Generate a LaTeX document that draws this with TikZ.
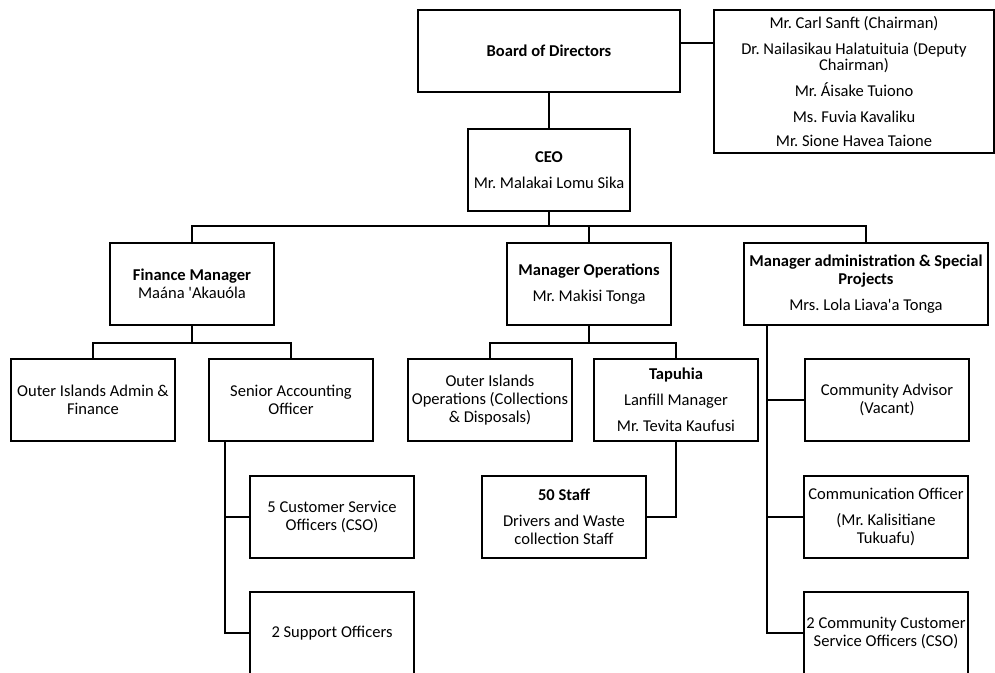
\documentclass[tikz,border=0pt]{standalone}
\usepackage{fontspec}
\setmainfont{Carlito}
\usepackage{tikz}
\frenchspacing

\begin{document}
\begin{tikzpicture}[x=0.75pt,y=-0.75pt,
        box/.style={draw, line width=1.1pt, align=center, inner sep=1pt,
            minimum width=123pt, minimum height=61.5pt,
            font=\fontsize{12.4}{13.5}\selectfont},
        link/.style={line width=1.3pt}]
        \useasboundingbox (0,0) rectangle (995,673);
        \clip (0,0) rectangle (995,673);

        \node[box, minimum width=196.5pt] (board) at (549,51) {\textbf{Board of Directors}};
        \node[box, minimum width=210pt, minimum height=107.25pt] (members) at (854,81.5)
            {Mr. Carl Sanft (Chairman)\\[6pt]
             Dr. Nailasikau Halatuituia (Deputy\\[-1pt]
             Chairman)\\[6pt]
             Mr. Áisake Tuiono\\[5.5pt]
             Ms. Fuvia Kavaliku\\[5pt]
             Mr. Sione Havea Taione};
        \node[box, minimum width=121.5pt] (ceo) at (549,170) {\textbf{CEO}\\[6pt] Mr. Malakai Lomu Sika};

        \node[box] (fin) at (192,284) {\textbf{Finance Manager}\\ Maána \textquotesingle Akauóla};
        \node[box] (ops) at (589,284) {\textbf{Manager Operations}\\[6pt] Mr. Makisi Tonga};
        \node[box, minimum width=183pt] (adm) at (866,284)
            {\textbf{Manager administration \& Special}\\ \textbf{Projects}\\[6pt] Mrs. Lola Liava\textquotesingle a Tonga};

        \node[box] (oia) at (93,400) {Outer Islands Admin \&\\ Finance};
        \node[box] (sao) at (291,400) {Senior Accounting\\ Officer};
        \node[box] (oio) at (490,400) {Outer Islands\\ Operations (Collections\\ \& Disposals)};
        \node[box] (tap) at (676,400) {\textbf{Tapuhia}\\[6pt] Lanfill Manager\\[6pt] Mr. Tevita Kaufusi};
        \node[box] (adv) at (887,400) {Community Advisor\\ (Vacant)};

        \node[box] (cso) at (332,517) {5 Customer Service\\ Officers (CSO)};
        \node[box] (staff) at (564,517) {\textbf{50 Staff}\\[6pt] Drivers and Waste\\ collection Staff};
        \node[box] (comm) at (886,517) {Communication Officer\\[6pt] (Mr. Kalisitiane\\ Tukuafu)};
        \node[box] (sup) at (332,633) {2 Support Officers};
        \node[box] (ccso) at (886,633) {2 Community Customer\\ Service Officers (CSO)};

        \coordinate (b1) at (549,226);
        \coordinate (b2) at (192,343);
        \coordinate (b3) at (589,343);
        \coordinate (s1) at ([xshift=12.75pt]sao.south west);
        \coordinate (s2) at ([xshift=18pt]adm.south west);

        \draw[link] ([yshift=6pt]board.east) -- ([yshift=6pt]board.east -| members.west);
        \draw[link] (board.south) -- (ceo.north);
        \draw[link] (ceo.south) -- (b1);
        \draw[link] (fin.north) |- (b1) -| (adm.north);
        \draw[link] (ops.north) -- (ops.north |- b1);

        \draw[link] (fin.south) -- (b2);
        \draw[link] (oia.north) |- (b2) -| (sao.north);
        \draw[link] (ops.south) -- (b3);
        \draw[link] (oio.north) |- (b3) -| (tap.north);

        \draw[link] (s1) |- (sup.west);
        \draw[link] (s1 |- cso.west) -- (cso.west);
        \draw[link] (tap.south) |- (staff.east);
        \draw[link] (s2) |- (ccso.west);
        \draw[link] (s2 |- adv.west) -- (adv.west);
        \draw[link] (s2 |- comm.west) -- (comm.west);
    \end{tikzpicture}
\end{document}
